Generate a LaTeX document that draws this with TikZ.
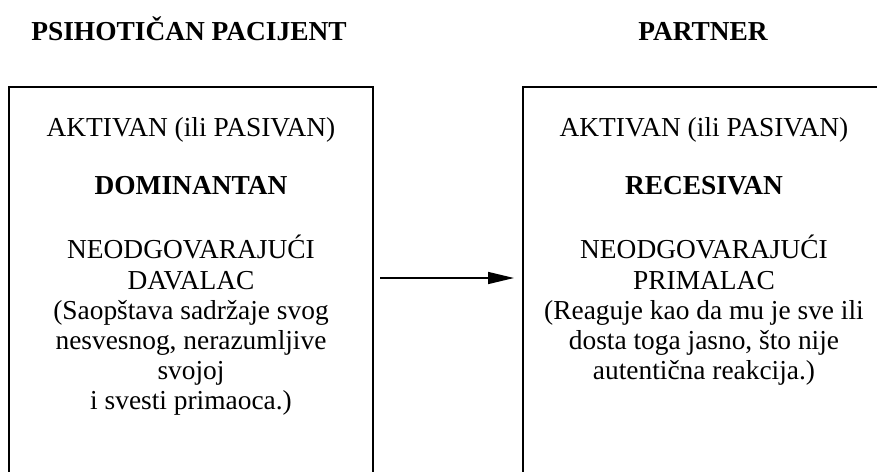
\documentclass[tikz,border=0pt]{standalone}
\usepackage{fontspec}
\setmainfont{Liberation Serif}
\usetikzlibrary{arrows.meta}
\tikzset{
  panel/.style={draw=black, line width=2pt},
  txt/.style={anchor=base, inner sep=0pt, font=\fontsize{27.4}{30}\selectfont},
  boldtxt/.style={txt, font=\fontsize{27.4}{30}\selectfont\bfseries},
  flow/.style={line width=1.5pt, -{Triangle[length=26pt,width=12pt]}}
}
\begin{document}
\begin{tikzpicture}[x=1pt,y=-1pt]
\useasboundingbox (0,0) rectangle (877,471);
% column headings
\node[boldtxt] (hpat) at (189,40) {PSIHOTIČAN PACIJENT};
\node[boldtxt] (hpar) at (703,40) {PARTNER};
% panels (run past the lower and right edges)
\draw[panel] (9,520) -- (9,87) -- (373,87) -- (373,520);
\draw[panel] (523,520) -- (523,87) -- (900,87);
% left panel text
\node[txt] (la) at (191,136) {AKTIVAN (ili PASIVAN)};
\node[boldtxt] (lb) at (191,194) {DOMINANTAN};
\node[txt] (lc) at (191,258) {NEODGOVARAJUĆI};
\node[txt] (ld) at (191,289) {DAVALAC};
\node[txt] (le) at (191,319) {(Saopštava sadržaje svog};
\node[txt] (lf) at (191,349) {nesvesnog, nerazumljive};
\node[txt] (lg) at (191,379) {svojoj};
\node[txt] (lh) at (191,409) {i svesti primaoca.)};
% right panel text
\node[txt] (ra) at (704,136) {AKTIVAN (ili PASIVAN)};
\node[boldtxt] (rb) at (704,194) {RECESIVAN};
\node[txt] (rc) at (704,258) {NEODGOVARAJUĆI};
\node[txt] (rd) at (704,289) {PRIMALAC};
\node[txt] (re) at (704,319) {(Reaguje kao da mu je sve ili};
\node[txt] (rf) at (704,349) {dosta toga jasno, što nije};
\node[txt] (rg) at (704,379) {autentična reakcija.)};
% transfer arrow between the panels
\coordinate (src) at (380,278);
\coordinate (dst) at (514,278);
\draw[flow] (src) -- (dst);
\end{tikzpicture}
\end{document}
